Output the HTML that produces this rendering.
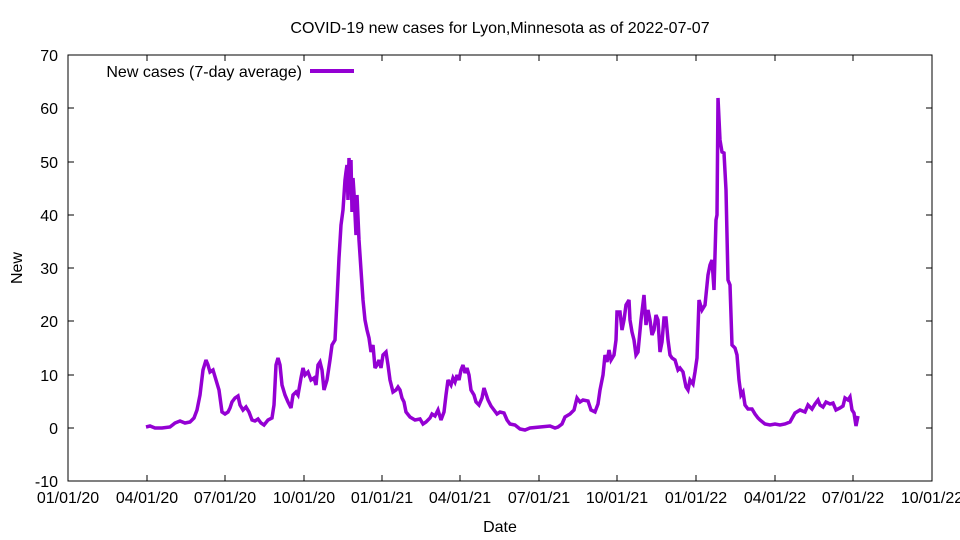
<!DOCTYPE html>
<html><head><meta charset="utf-8"><style>body{margin:0;background:#fff}svg{display:block;font-family:"Liberation Sans",sans-serif}</style></head><body>
<svg width="960" height="540" viewBox="0 0 960 540">
<rect x="68" y="55" width="864" height="426" fill="none" stroke="#000" stroke-width="1"/>
<g stroke="#000" stroke-width="1">
<path d="M68 481h6M68 428h6M68 375h6M68 321h6M68 268h6M68 215h6M68 162h6M68 108h6M68 55h6M932 481h-6M932 428h-6M932 375h-6M932 321h-6M932 268h-6M932 215h-6M932 162h-6M932 108h-6M932 55h-6"/>
<path d="M68 481v-6M147 481v-6M225 481v-6M304 481v-6M382 481v-6M460 481v-6M539 481v-6M617 481v-6M696 481v-6M775 481v-6M853 481v-6M932 481v-6M68 55v6M147 55v6M225 55v6M304 55v6M382 55v6M460 55v6M539 55v6M617 55v6M696 55v6M775 55v6M853 55v6M932 55v6"/>
</g>
<g font-size="16" text-anchor="end">
<text x="58" y="487">-10</text><text x="58" y="434">0</text><text x="58" y="381">10</text><text x="58" y="327">20</text><text x="58" y="274">30</text><text x="58" y="221">40</text><text x="58" y="168">50</text><text x="58" y="114">60</text><text x="58" y="61">70</text>
</g>
<g font-size="16" text-anchor="middle">
<text x="68" y="503">01/01/20</text><text x="147" y="503">04/01/20</text><text x="225" y="503">07/01/20</text><text x="304" y="503">10/01/20</text><text x="382" y="503">01/01/21</text><text x="460" y="503">04/01/21</text><text x="539" y="503">07/01/21</text><text x="617" y="503">10/01/21</text><text x="696" y="503">01/01/22</text><text x="775" y="503">04/01/22</text><text x="853" y="503">07/01/22</text><text x="932" y="503">10/01/22</text>
<text x="500" y="532">Date</text>
<text x="500" y="33">COVID-19 new cases for Lyon,Minnesota as of 2022-07-07</text>
<text x="22" y="268" transform="rotate(-90 22 268)">New</text>
</g>
<text x="302" y="77" font-size="16" text-anchor="end">New cases (7-day average)</text>
<path d="M310 71h44" stroke="#9400d3" stroke-width="4"/>
<polyline fill="none" stroke="#9400d3" stroke-width="3.5" stroke-linejoin="miter" stroke-miterlimit="3" points="146,427 150,426 155,428 162,428 170,427 175,423 180,421 185,423 190,422 194,418 197,410 200,395 203,370 206,360 208,365 210,372 213,370 216,380 219,390 222,412 225,414 228,412 230,408 232,402 235,398 238,396 240,405 243,410 246,407 249,412 252,420 255,421 258,419 261,423 264,425 268,420 272,418 274,405 276,365 278,358 280,365 282,385 285,395 288,402 291,408 293,395 296,392 298,395 301,378 303,368 305,375 308,372 311,380 314,378 316,385 318,365 320,362 322,370 324,390 327,380 330,360 332,345 335,340 337,300 339,258 341,225 343,210 345,180 346,172 347,165 348,200 349,158 350,175 351,160 352,212 353,178 354,193 356,235 357,195 359,240 361,270 363,300 365,320 367,330 369,338 371,352 373,345 375,368 377,365 379,360 381,368 383,355 386,352 388,365 390,380 393,392 396,390 398,387 400,390 402,398 404,402 406,412 410,417 415,420 420,419 423,424 426,422 430,418 432,414 435,416 438,410 441,420 444,412 446,395 448,380 451,385 453,378 455,382 457,375 459,380 461,370 463,365 465,373 467,368 469,375 471,390 474,395 476,402 479,405 482,398 484,388 486,394 488,400 491,406 494,410 497,414 500,412 504,413 507,420 510,424 515,425 520,429 525,430 530,428 540,427 550,426 555,428 558,427 562,424 565,417 570,414 574,410 577,398 580,402 583,400 588,401 591,410 595,412 598,404 600,390 603,375 605,355 607,362 609,350 611,360 614,355 616,340 617,312 620,312 622,330 624,320 626,305 629,300 630,320 632,332 634,340 636,355 638,352 641,320 644,295 646,325 648,310 650,320 652,335 654,330 656,315 658,320 660,352 662,342 664,318 666,318 668,340 670,355 672,358 675,360 678,370 680,368 683,372 686,387 688,390 690,380 693,384 695,372 697,358 699,300 702,310 705,305 708,275 710,265 712,260 714,290 716,220 717,215 718,98 720,140 722,152 724,153 726,190 728,280 730,285 732,345 735,348 737,355 739,380 741,395 743,392 745,405 748,409 752,409 755,414 758,418 760,420 765,424 770,425 775,424 780,425 785,424 790,422 795,413 800,410 805,412 808,405 812,409 815,404 818,400 820,405 823,407 826,402 830,404 833,403 836,410 840,408 843,406 845,398 848,400 850,397 852,410 854,413 856,426 858,416"/>
</svg>
</body></html>
